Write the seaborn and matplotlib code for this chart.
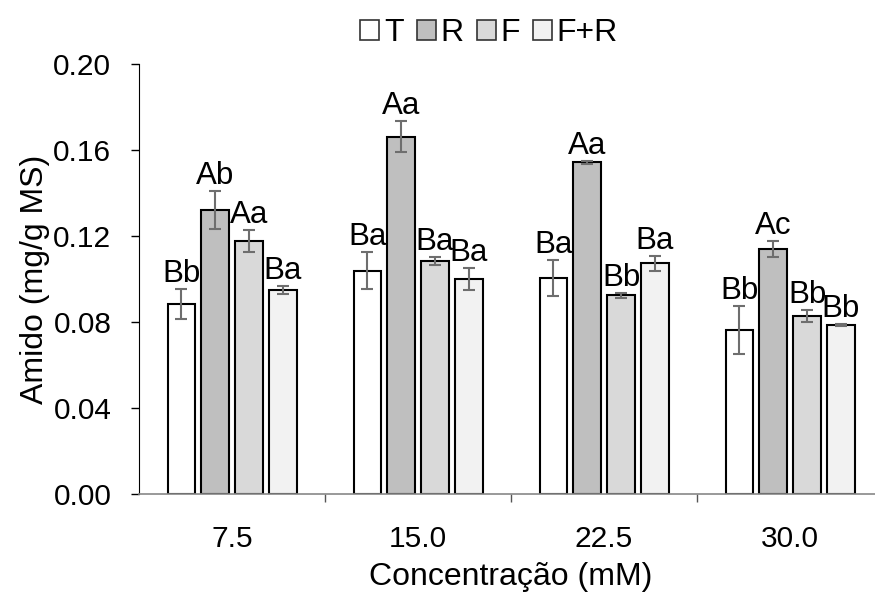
import pandas as pd
import numpy as np
import matplotlib
matplotlib.use("Agg")
import matplotlib.pyplot as plt
from matplotlib.patches import Patch
import seaborn as sns

# ── data (mean ± error) ──
concentrations = ["7.5", "15.0", "22.5", "30.0"]
treatments     = ["T", "R", "F", "F+R"]

amido_T  = [0.0884, 0.1039, 0.1003, 0.0763]
amido_R  = [0.1320, 0.1662, 0.1543, 0.1140]
amido_F  = [0.1177, 0.1084, 0.0924, 0.0828]
amido_FR = [0.0949, 0.0999, 0.1073, 0.0785]

err_T  = [0.0070, 0.0086, 0.0084, 0.0110]
err_R  = [0.0089, 0.0072, 0.0007, 0.0037]
err_F  = [0.0053, 0.0018, 0.0010, 0.0026]
err_FR = [0.0020, 0.0050, 0.0035, 0.0005]

letters_T  = ["Bb", "Ba", "Ba", "Bb"]
letters_R  = ["Ab", "Aa", "Aa", "Ac"]
letters_F  = ["Aa", "Ba", "Bb", "Bb"]
letters_FR = ["Ba", "Ba", "Ba", "Bb"]

colors = {"T": "#FFFFFF", "R": "#BFBFBF", "F": "#D9D9D9", "F+R": "#F2F2F2"}

means   = [amido_T, amido_R, amido_F, amido_FR]
errors  = [err_T, err_R, err_F, err_FR]
letters = [letters_T, letters_R, letters_F, letters_FR]

df = pd.DataFrame({
    "conc":  np.repeat([concentrations], 4, axis=0).ravel(),
    "trat":  np.repeat(treatments, 4),
    "amido": np.ravel(means),
})

plt.rcParams["font.family"] = ["Liberation Sans", "DejaVu Sans"]
FS_TICK = 21.5
FS_LAB = 23
FS_ANN = 22.5

fig = plt.figure(figsize=(8.75, 5.92), dpi=100)
ax = fig.add_axes([0.1589, 0.1655, 0.8503, 0.7264])

sns.barplot(data=df, x="conc", y="amido", hue="trat",
            order=concentrations, hue_order=treatments, palette=colors,
            width=0.73, gap=0.2, errorbar=None,
            edgecolor="black", linewidth=1.5, legend=False, ax=ax)

# error bars + letters on top of each bar
for cont, m, e, lab in zip(ax.containers, means, errors, letters):
    xs = [p.get_x() + p.get_width() / 2 for p in cont.patches]
    ax.errorbar(xs, m, yerr=e, fmt="none", ecolor="#6E6E6E",
                elinewidth=1.5, capsize=4.5, capthick=1.5, zorder=5)
    for x, y, s, t in zip(xs, m, e, lab):
        ax.annotate(t, (x, y + s), textcoords="offset points", xytext=(0, 0),
                    ha="center", va="bottom", fontsize=FS_ANN, color="black")

ax.set_ylim(0, 0.20)
ax.set_xlim(-0.5, 3.5)
ax.set_yticks(np.arange(0, 0.201, 0.04))
ax.set_yticklabels([f"{v:.2f}" for v in np.arange(0, 0.201, 0.04)], fontsize=FS_TICK)
ax.tick_params(axis="y", length=6, width=1, color="black", pad=14)
ax.tick_params(axis="x", which="major", length=0, labelsize=FS_TICK, pad=22)
ax.set_xticks([0.5, 1.5, 2.5], minor=True)
ax.tick_params(axis="x", which="minor", length=6, width=1, color="#555555")

ax.set_xlabel("Concentração (mM)", fontsize=FS_LAB, labelpad=7)
ax.set_ylabel("Amido (mg/g MS)", fontsize=FS_LAB, labelpad=2)

ax.spines["top"].set_visible(False)
ax.spines["right"].set_visible(False)
ax.spines["left"].set_color("black")
ax.spines["bottom"].set_color("#888888")
ax.spines["bottom"].set_linewidth(1.2)

handles = [Patch(facecolor=colors[t], edgecolor="#333333", linewidth=1.2, label=t)
           for t in treatments]
fig.legend(handles=handles, loc="center", bbox_to_anchor=(0.559, 0.944), ncol=4,
           frameon=False, fontsize=FS_LAB, handlelength=0.6, handleheight=0.6,
           handletextpad=0.15, columnspacing=0.4)

plt.savefig("out.png", dpi=100)
plt.close()
